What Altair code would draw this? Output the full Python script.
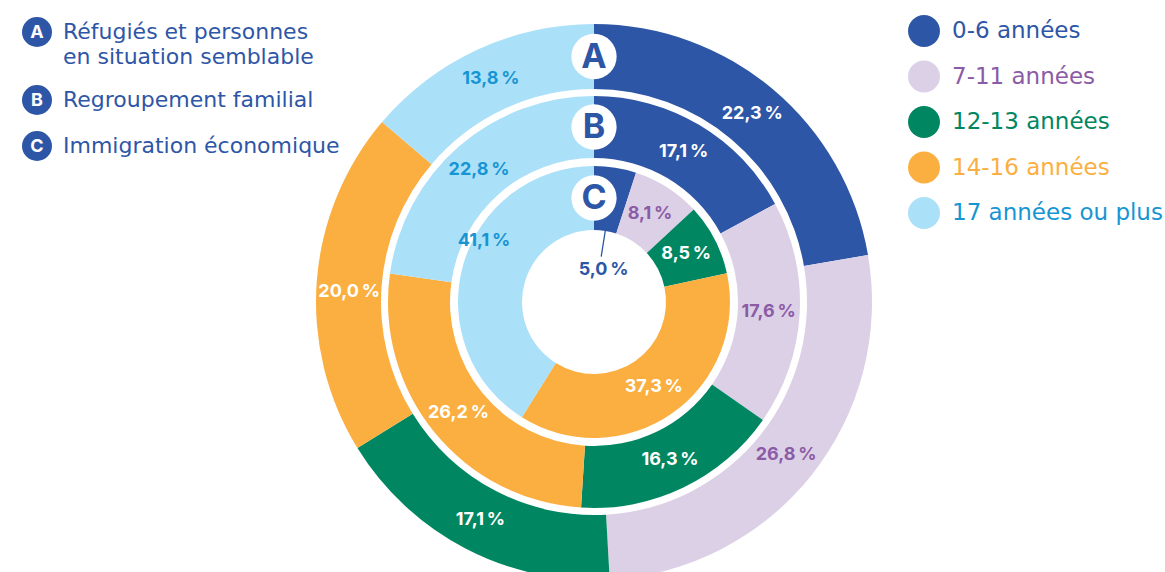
import math
import altair as alt
import pandas as pd

# ---------------- data ----------------
categories = ["0-6 années", "7-11 années", "12-13 années", "14-16 années", "17 années ou plus"]
refugies = [22.3, 26.8, 17.1, 20.0, 13.8]          # A
regroupement = [17.1, 17.6, 16.3, 26.2, 22.8]      # B
economique = [5.0, 8.1, 8.5, 37.3, 41.1]           # C
ring_letters = ["A", "B", "C"]
ring_names = ["Réfugiés et personnes\nen situation semblable", "Regroupement familial", "Immigration économique"]

# ---------------- styles ----------------
DARK = "#2E56A6"
fill_colors = [DARK, "#DCD0E6", "#008762", "#FBAF40", "#ABE0F9"]
label_colors = ["#FFFFFF", "#8B5BA6", "#FFFFFF", "#FFFFFF", "#1795D3"]
legend_text_colors = [DARK, "#8B5BA6", "#008762", "#FBAF40", "#1795D3"]
FONT = "Inter"
LEG_FONT = "DejaVu Sans"

CX, CY = 594, 302
RINGS = {"A": (278, 213), "B": (206, 144), "C": (136, 72)}
LEFT_Y = [32, 100, 146]


def fmt(v):
    return f"{v:.1f}".replace(".", ",") + "\u202f%"


rows = []
for letter, vals in zip(ring_letters, [refugies, regroupement, economique]):
    for i, (c, v) in enumerate(zip(categories, vals)):
        rows.append({"ring": letter, "category": c, "order": i, "value": v, "label": fmt(v)})
df = pd.DataFrame(rows)

theta_scale = alt.Scale(domain=[0, 100], range=[0, 2 * math.pi])
fill_scale = alt.Scale(domain=categories, range=fill_colors)
label_scale = alt.Scale(domain=categories, range=label_colors)

base = alt.Chart(df).transform_stack(
    stack="value", as_=["s0", "s1"], groupby=["ring"], sort=[alt.SortField("order", order="ascending")]
).transform_calculate(mid="(datum.s0 + datum.s1) / 2")

layers = []
# rings
for letter in ring_letters:
    ro, ri = RINGS[letter]
    layers.append(
        base.transform_filter(alt.datum.ring == letter).mark_arc(radius=ro, radius2=ri).encode(
            theta=alt.Theta("s0:Q", scale=theta_scale),
            theta2="s1:Q",
            color=alt.Color("category:N", scale=fill_scale, legend=None),
            x=alt.value(CX), y=alt.value(CY),
        )
    )

# percentage labels
special = "(datum.ring == 'C' && (datum.order == 0 || datum.order == 4)) || (datum.ring == 'A' && datum.order == 3)"
for letter in ring_letters:
    ro, ri = RINGS[letter]
    layers.append(
        base.transform_filter(alt.datum.ring == letter).transform_filter("!(" + special + ")")
        .mark_text(radius=(ro + ri) / 2, font=FONT, fontWeight="bold", fontSize=18, baseline="middle", align="center")
        .encode(
            theta=alt.Theta("mid:Q", scale=theta_scale),
            text="label:N",
            color=alt.Color("category:N", scale=label_scale, legend=None),
            x=alt.value(CX), y=alt.value(CY),
        )
    )

# labels placed with an offset
def special_label(ring, order, radius, dx, dy, color):
    return (
        base.transform_filter((alt.datum.ring == ring) & (alt.datum.order == order))
        .mark_text(radius=radius, font=FONT, fontWeight="bold", fontSize=18, baseline="middle", align="center",
                   dx=dx, dy=dy, color=color)
        .encode(theta=alt.Theta("mid:Q", scale=theta_scale), text="label:N", x=alt.value(CX), y=alt.value(CY))
    )

layers.append(special_label("C", 4, 104, -10, -32, "#1795D3"))
layers.append(special_label("A", 3, 245.5, 0, 8, "#FFFFFF"))
layers.append(special_label("C", 0, 36, 4, 4, DARK))
# leader line for 5,0 %
layers.append(
    base.transform_filter((alt.datum.ring == "C") & (alt.datum.order == 0))
    .mark_arc(radius=73, radius2=46, stroke=DARK, strokeWidth=1.3)
    .encode(theta=alt.Theta("mid:Q", scale=theta_scale), theta2="mid:Q", x=alt.value(CX), y=alt.value(CY))
)

# letter badges on rings
letters_df = pd.DataFrame({"letter": ring_letters})
for letter in ring_letters:
    ro, ri = RINGS[letter]
    yc = CY - (ro + ri) / 2
    sub = alt.Chart(letters_df).transform_filter(alt.datum.letter == letter)
    layers.append(sub.mark_circle(size=2050, color="white", opacity=1).encode(x=alt.value(CX), y=alt.value(yc)))
    layers.append(sub.mark_text(font=FONT, fontWeight="bold", fontSize=34, color=DARK, baseline="middle", dy=1)
                  .encode(text="letter:N", x=alt.value(CX), y=alt.value(yc)))

# left legend (programmes)
prog_df = pd.DataFrame({"letter": ring_letters, "name": ring_names})
for i, letter in enumerate(ring_letters):
    sub = alt.Chart(prog_df).transform_filter(alt.datum.letter == letter)
    y = LEFT_Y[i]
    layers.append(sub.mark_circle(size=900, color=DARK, opacity=1).encode(x=alt.value(37), y=alt.value(y)))
    layers.append(sub.mark_text(font=FONT, fontWeight="bold", fontSize=18, color="white", baseline="middle", dy=1)
                  .encode(text="letter:N", x=alt.value(37), y=alt.value(y)))
    layers.append(sub.mark_text(font=LEG_FONT, fontSize=22, color=DARK, align="left", baseline="alphabetic",
                                lineBreak="\n", lineHeight=25)
                  .encode(text="name:N", x=alt.value(63), y=alt.value(y + 7)))

# right legend (age groups)
leg_df = pd.DataFrame({"category": categories})
ypos = alt.Y("category:N", sort=categories, axis=None,
             scale=alt.Scale(type="point", domain=categories, range=[31, 213], padding=0))
layers.append(alt.Chart(leg_df).mark_circle(size=1020, opacity=1).encode(
    x=alt.value(924), y=ypos, color=alt.Color("category:N", scale=fill_scale, legend=None)))
layers.append(alt.Chart(leg_df).mark_text(font=LEG_FONT, fontSize=23, align="left", baseline="middle").encode(
    x=alt.value(952), y=ypos, text="category:N",
    color=alt.Color("category:N", scale=alt.Scale(domain=categories, range=legend_text_colors), legend=None)))

chart = alt.layer(*layers).resolve_scale(color="independent", y="independent").properties(
    width=1165, height=572, padding=0, autosize=alt.AutoSizeParams(type="none"),
    background="white"
).configure_view(stroke=None)

chart.save("out.html", embed_options={"renderer": "svg", "actions": False})
